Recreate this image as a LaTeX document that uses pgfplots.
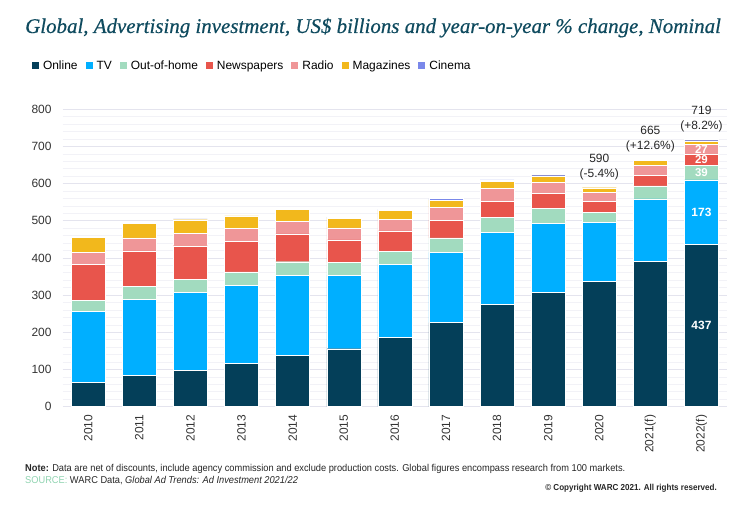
\documentclass[border=0pt]{standalone}
\usepackage{fontspec}
\setmainfont{Liberation Sans}
\newfontfamily\titlefont[FakeBold=0.5]{Liberation Serif}
\newfontfamily\narrowfont[FakeStretch=0.93]{Liberation Sans}
\usepackage{pgfplots}
\pgfplotsset{compat=1.18}
\usepackage{pgfplotstable}

\definecolor{conline}{HTML}{043F59}
\definecolor{ctv}{HTML}{00AFFF}
\definecolor{cooh}{HTML}{A2DBBF}
\definecolor{cnews}{HTML}{E8554C}
\definecolor{cradio}{HTML}{EF9698}
\definecolor{cmag}{HTML}{F2B81C}
\definecolor{ccinema}{HTML}{7A88EA}
\definecolor{titlecol}{HTML}{0E4A5E}
\definecolor{gridmaj}{HTML}{E4E4EE}
\definecolor{gridmin}{HTML}{F2F2F7}
\definecolor{labcol}{HTML}{333333}
\definecolor{srccol}{HTML}{8FD3B0}

\tikzset{
  totlab/.style={font=\fontsize{12}{15}\selectfont, align=center, inner sep=0pt, anchor=south, text=black!85, yshift=7bp},
  inlab/.style={font=\bfseries\fontsize{12}{14}\selectfont, inner sep=0pt, text=white},
  inlabs/.style={font=\bfseries\fontsize{11.5}{12}\selectfont, inner sep=0pt, text=white}
}

\pgfplotstableread{
x Online TV OOH News Radio Mag Cinema
0 66 190 30 97 32 41 2
1 84 205 34 96 35 40 2
2 98 210 35 90 34 36 2
3 116 211 36 82 34 34 2
4 138 216 36 75 34 31 3
5 156 198 34 61 32 26 3
6 187 196 35 55 31 24 3
7 226 189 39 48 34 20 4
8 275 194 41 43 34 19 4
9 308 185 41 39 31 17 4
10 338 157 28 29 24 13 1
11 391 168 35 29 27 12 3
12 437 173 39 29 27 10 4
}\datatable

\begin{document}
\begin{tikzpicture}
\useasboundingbox (0,0) rectangle (750bp,506bp);
\node[anchor=base west, inner sep=0, text=titlecol, font=\titlefont\itshape\fontsize{21}{24}\selectfont] at (25bp,473bp) {Global, Advertising investment, US\$ billions and year-on-year \% change, Nominal};
\begin{axis}[
  at={(62.7bp,99.3bp)}, anchor=south west, scale only axis,
  width=664.3bp, height=297.4bp,
  ybar stacked, bar width=34bp,
  xmin=-0.5, xmax=12.5, ymin=0, ymax=800,
  xtick={0,...,12},
  xticklabels={2010,2011,2012,2013,2014,2015,2016,2017,2018,2019,2020,2021(f),2022(f)},
  ytick={0,100,...,800}, minor ytick={20,40,...,780},
  ymajorgrids, yminorgrids,
  major grid style={draw=gridmaj, line width=0.8bp},
  minor grid style={draw=gridmin, line width=0.8bp},
  axis line style={draw=none}, major tick style={draw=none}, minor tick style={draw=none},
  tick label style={font=\fontsize{12}{14}\selectfont, text=labcol},
  yticklabel style={anchor=east, inner sep=0pt, xshift=-11bp},
  xticklabel style={rotate=90, anchor=east, inner sep=0pt, xshift=-8bp},
  /pgf/number format/assume math mode=true,
  clip=false,
  legend image code/.code={\fill[#1, draw=none] (0bp,-3.5bp) rectangle (7bp,3.5bp);},
  legend style={at={(axis description cs:-0.0462,1.1456)}, anchor=west,
    draw=none, fill=none, inner sep=0pt, outer sep=0pt,
    legend columns=-1, font=\fontsize{12}{14}\selectfont,
    nodes={inner sep=0pt},
    /tikz/every odd column/.append style={column sep=4bp},
    /tikz/every even column/.append style={column sep=8bp}},
]
\addplot[fill=conline, draw=white, line width=0.4bp] table[x=x,y=Online]{\datatable};
\addlegendentry{Online}
\addplot[fill=ctv, draw=white, line width=0.4bp] table[x=x,y=TV]{\datatable};
\addlegendentry{TV}
\addplot[fill=cooh, draw=white, line width=0.4bp] table[x=x,y=OOH]{\datatable};
\addlegendentry{Out-of-home}
\addplot[fill=cnews, draw=white, line width=0.4bp] table[x=x,y=News]{\datatable};
\addlegendentry{Newspapers}
\addplot[fill=cradio, draw=white, line width=0.4bp] table[x=x,y=Radio]{\datatable};
\addlegendentry{Radio}
\addplot[fill=cmag, draw=white, line width=0.4bp] table[x=x,y=Mag]{\datatable};
\addlegendentry{Magazines}
\addplot[fill=ccinema, draw=white, line width=0.4bp] table[x=x,y=Cinema]{\datatable};
\addlegendentry{Cinema}

\coordinate (t20) at (axis cs:10,590);
\coordinate (t21) at (axis cs:11,665);
\coordinate (t22) at (axis cs:12,719);
\coordinate (a) at (axis cs:12,218.5);
\coordinate (b) at (axis cs:12,523.5);
\coordinate (c) at (axis cs:12,629.5);
\coordinate (d) at (axis cs:12,663.5);
\coordinate (e) at (axis cs:12,691.5);
\end{axis}
\node[totlab] at (t20) {590\\(-5.4\%)};
\node[totlab] at (t21) {665\\(+12.6\%)};
\node[totlab] at (t22) {719\\(+8.2\%)};
\node[inlab] at (a) {437};
\node[inlab] at (b) {173};
\node[inlabs] at (c) {39};
\node[inlabs] at (d) {29};
\node[inlabs] at (e) {27};
\node[anchor=west, inner sep=0, text=black!85, font=\narrowfont\fontsize{10}{12}\selectfont] at (25bp,37bp) {\textbf{Note:} Data are net of discounts, include agency commission and exclude production costs. Global figures encompass research from 100 markets.};
\node[anchor=west, inner sep=0, text=black!85, font=\narrowfont\fontsize{10}{12}\selectfont] at (25bp,25bp) {{\color{srccol}SOURCE:} WARC Data, \textit{Global Ad Trends: Ad Investment 2021/22}};
\node[anchor=east, inner sep=0, text=black!85, font=\narrowfont\bfseries\fontsize{8.7}{10}\selectfont] at (717bp,18bp) {\textcopyright{} Copyright WARC 2021. All rights reserved.};
\end{tikzpicture}
\end{document}
